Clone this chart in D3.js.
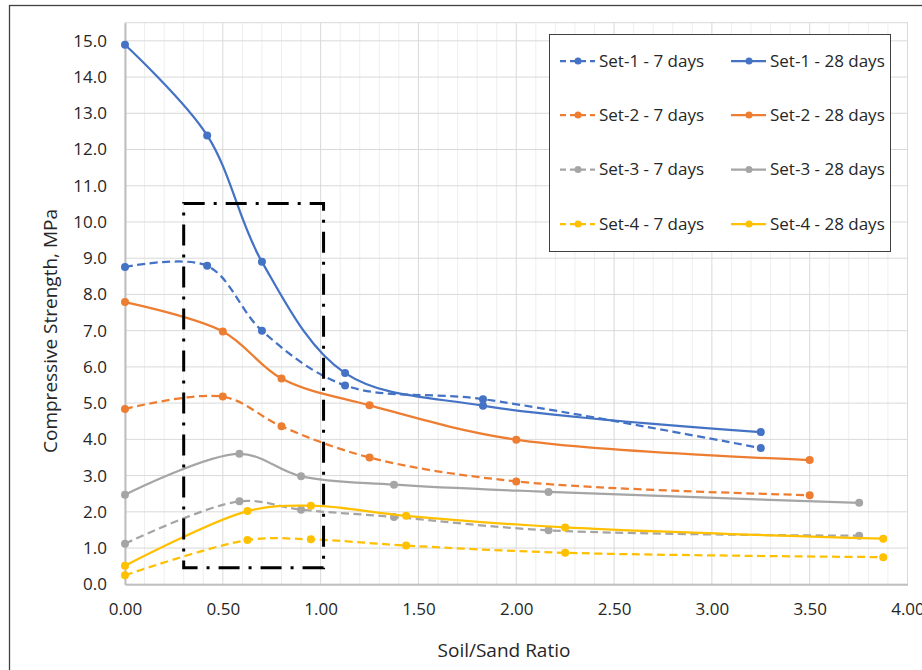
<!DOCTYPE html>
<html>
<head>
<meta charset="utf-8">
<script src="https://cdn.jsdelivr.net/npm/d3@7"></script>
<style>
  body { margin: 0; background: #fff; }
  svg text { font-family: "Open Sans", "Liberation Sans", sans-serif; fill: #262626; }
</style>
</head>
<body>
<div id="chart"></div>
<script>
// soil/sand ratios used by each set
const set1X = [0, 0.42, 0.70, 1.125, 1.83, 3.25];
const set2X = [0, 0.50, 0.80, 1.25, 2.00, 3.50];
const set3X = [0, 0.585, 0.90, 1.375, 2.165, 3.753];
const set4X = [0, 0.626, 0.95, 1.437, 2.25, 3.876];

// compressive strength, MPa
const set1Day7 = [8.76, 8.79, 7.00, 5.49, 5.11, 3.76];
const set1Day28 = [14.89, 12.39, 8.90, 5.83, 4.93, 4.20];
const set2Day7 = [4.84, 5.18, 4.36, 3.50, 2.84, 2.46];
const set2Day28 = [7.79, 6.98, 5.68, 4.94, 3.99, 3.43];
const set3Day7 = [1.12, 2.29, 2.06, 1.86, 1.49, 1.34];
const set3Day28 = [2.47, 3.60, 2.98, 2.75, 2.55, 2.25];
const set4Day7 = [0.25, 1.22, 1.24, 1.07, 0.87, 0.75];
const set4Day28 = [0.51, 2.02, 2.17, 1.89, 1.57, 1.26];

const seriesNames = ['Set-1 - 7 days', 'Set-1 - 28 days', 'Set-2 - 7 days', 'Set-2 - 28 days',
    'Set-3 - 7 days', 'Set-3 - 28 days', 'Set-4 - 7 days', 'Set-4 - 28 days'];

const xTicks = [0, 0.5, 1, 1.5, 2, 2.5, 3, 3.5, 4];
const yTicks = d3.range(0, 16, 1);

// dash-dot highlight box (x from, x to, y from, y to)
const boxX = [0.30, 1.015];
const boxY = [0.46, 10.51];

const colors = ['#4472C4', '#ED7D31', '#A5A5A5', '#FFC000'];

let series = [
    { name: seriesNames[0], xs: set1X, ys: set1Day7, c: colors[0], dashed: true },
    { name: seriesNames[1], xs: set1X, ys: set1Day28, c: colors[0], dashed: false },
    { name: seriesNames[2], xs: set2X, ys: set2Day7, c: colors[1], dashed: true },
    { name: seriesNames[3], xs: set2X, ys: set2Day28, c: colors[1], dashed: false },
    { name: seriesNames[4], xs: set3X, ys: set3Day7, c: colors[2], dashed: true },
    { name: seriesNames[5], xs: set3X, ys: set3Day28, c: colors[2], dashed: false },
    { name: seriesNames[6], xs: set4X, ys: set4Day7, c: colors[3], dashed: true },
    { name: seriesNames[7], xs: set4X, ys: set4Day28, c: colors[3], dashed: false }
];
series.forEach(s => { s.pts = s.xs.map((x, i) => ({ x: x, y: s.ys[i] })); });

let W = 922, H = 670;
let plotL = 125, plotR = 907.5, plotT = 22.7, plotB = 584.3;

let svg = d3.select('#chart').append('svg')
    .attr('width', W)
    .attr('height', H);

// chart frame
svg.append('rect')
    .attr('x', 9.5).attr('y', 5.5)
    .attr('width', 1000).attr('height', 1000)
    .attr('fill', '#fff')
    .attr('stroke', '#404040')
    .attr('stroke-width', 1.3);

let x = d3.scaleLinear().domain([0, 4]).range([plotL, plotR]);
let y = d3.scaleLinear().domain([0, 15.5]).range([plotB, plotT]);

// minor vertical grid
svg.append('g')
    .selectAll('line')
    .data(d3.range(1, 40).filter(i => i % 5 !== 0).map(i => i / 10))
    .enter().append('line')
    .attr('x1', d => x(d)).attr('x2', d => x(d))
    .attr('y1', plotT).attr('y2', plotB)
    .attr('stroke', '#eeeeee')
    .attr('stroke-width', 1);

// major grid
svg.append('g')
    .selectAll('line')
    .data(xTicks.slice(1))
    .enter().append('line')
    .attr('x1', d => x(d)).attr('x2', d => x(d))
    .attr('y1', plotT).attr('y2', plotB)
    .attr('stroke', '#d9d9d9');

svg.append('g')
    .selectAll('line')
    .data(yTicks.slice(1))
    .enter().append('line')
    .attr('x1', plotL).attr('x2', plotR)
    .attr('y1', d => y(d)).attr('y2', d => y(d))
    .attr('stroke', '#d9d9d9');

svg.append('rect')
    .attr('x', plotL).attr('y', plotT)
    .attr('width', plotR - plotL).attr('height', plotB - plotT)
    .attr('fill', 'none')
    .attr('stroke', '#d9d9d9');

// axes
let xAxis = svg.append('g')
    .attr('transform', 'translate(0,' + plotB + ')')
    .call(d3.axisBottom(x).tickValues(xTicks).tickFormat(d3.format('.2f')).tickSize(0).tickPadding(19));
xAxis.select('.domain').attr('stroke', '#bfbfbf').attr('stroke-width', 2);
xAxis.selectAll('text').style('font-size', '17px').attr('fill', '#262626');

let yAxis = svg.append('g')
    .attr('transform', 'translate(' + plotL + ',0)')
    .call(d3.axisLeft(y).tickValues(yTicks).tickFormat(d3.format('.1f')).tickSize(0).tickPadding(18));
yAxis.select('.domain').attr('stroke', '#bfbfbf').attr('stroke-width', 2);
yAxis.selectAll('text').style('font-size', '17px').attr('fill', '#262626');

// axis titles
svg.append('text')
    .attr('x', 504).attr('y', 657)
    .attr('text-anchor', 'middle')
    .style('font-size', '19px')
    .text('Soil/Sand Ratio');

svg.append('text')
    .attr('transform', 'rotate(-90)')
    .attr('x', -331).attr('y', 57)
    .attr('text-anchor', 'middle')
    .style('font-size', '19px')
    .text('Compressive Strength, MPa');

// series
let line = d3.line()
    .x(d => x(d.x))
    .y(d => y(d.y))
    .curve(d3.curveCatmullRom.alpha(0.5));

let sg = svg.append('g').selectAll('g')
    .data(series)
    .enter().append('g');

sg.append('path')
    .attr('d', d => line(d.pts))
    .attr('fill', 'none')
    .attr('stroke', d => d.c)
    .attr('stroke-width', 2.25)
    .attr('stroke-dasharray', d => d.dashed ? '8,4.5' : null);

sg.selectAll('circle')
    .data(d => d.pts.map(p => ({ x: p.x, y: p.y, c: d.c })))
    .enter().append('circle')
    .attr('cx', d => x(d.x))
    .attr('cy', d => y(d.y))
    .attr('r', 4)
    .attr('fill', d => d.c);

// highlight box
svg.append('rect')
    .attr('x', x(boxX[0])).attr('y', y(boxY[1]))
    .attr('width', x(boxX[1]) - x(boxX[0]))
    .attr('height', y(boxY[0]) - y(boxY[1]))
    .attr('fill', 'none')
    .attr('stroke', '#000')
    .attr('stroke-width', 3)
    .attr('stroke-dasharray', '21,9,3,9');

// legend
let lg = svg.append('g');
lg.append('rect')
    .attr('x', 549.5).attr('y', 34.5)
    .attr('width', 341).attr('height', 217)
    .attr('fill', '#fff')
    .attr('stroke', '#404040')
    .attr('stroke-width', 1);

let rowY = [61, 115, 169.5, 224];
let colX = [560, 731];

let items = lg.selectAll('g.item')
    .data(series)
    .enter().append('g')
    .attr('class', 'item')
    .attr('transform', (d, i) => 'translate(' + colX[i % 2] + ',' + rowY[Math.floor(i / 2)] + ')');

items.append('line')
    .attr('x1', 0).attr('x2', 35)
    .attr('y1', 0).attr('y2', 0)
    .attr('stroke', d => d.c)
    .attr('stroke-width', 2.25)
    .attr('stroke-dasharray', d => d.dashed ? '6,4' : null);

items.append('circle')
    .attr('cx', 18).attr('cy', 0)
    .attr('r', 3.5)
    .attr('fill', d => d.c);

items.append('text')
    .attr('x', 39).attr('y', 0)
    .attr('dy', '0.35em')
    .style('font-size', '17px')
    .text(d => d.name);
</script>
</body>
</html>
